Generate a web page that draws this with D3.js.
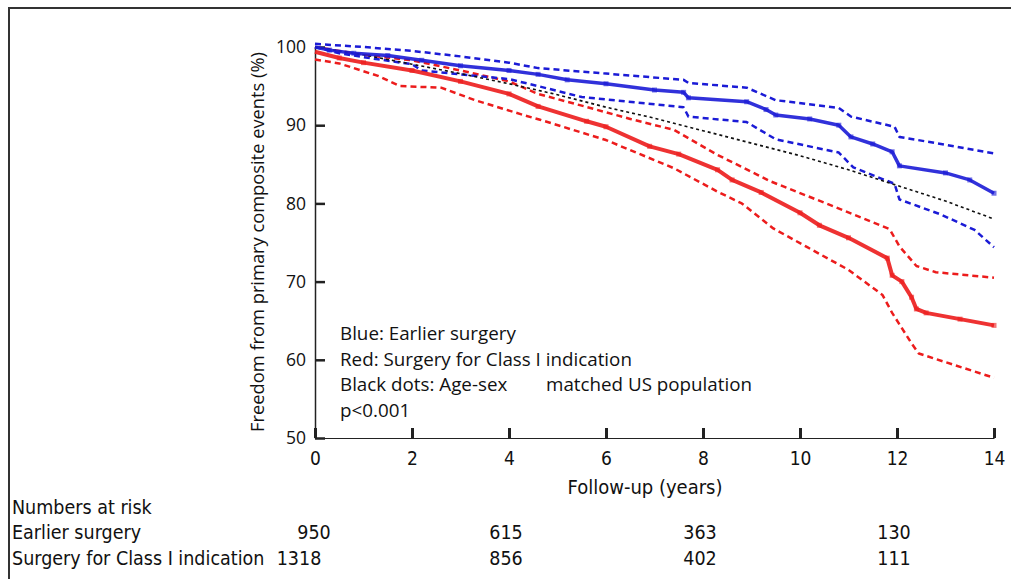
<!DOCTYPE html>
<meta charset="utf-8">
<style>
body { margin: 0; background: #fff; }
svg text { fill: #111; }
.seg { font-family: "Open Sans", "DejaVu Sans", sans-serif; }
.cal { font-family: "Liberation Sans Narrow", "DejaVu Sans Condensed", sans-serif; }
.axis path, .axis line { stroke: #222; }
</style>
<body></body>
<script src="https://d3js.org/d3.v7.min.js"></script>
<script>
// Kaplan-Meier curves: [years, % free of events]
var blueKM = [[0,100],[0.3,99.6],[0.8,99.2],[1.5,98.9],[2.2,98.3],[3,97.6],[4,97.0],[4.6,96.5],[5.2,95.8],[6,95.3],[7,94.5],[7.6,94.2],[7.7,93.5],[8.9,93.0],[9.3,92.0],[9.5,91.3],[10.2,90.8],[10.8,90.0],[11.05,88.5],[11.5,87.6],[11.9,86.6],[12.05,84.8],[13,83.9],[13.5,83.0],[14,81.3]];
var blueUpper = [[0,100.4],[1,100],[2,99.5],[3,98.8],[4,98.0],[4.6,97.3],[6,96.6],[7.6,95.8],[7.7,95.4],[8.9,94.8],[9.5,93.2],[10.8,92.2],[11.05,91.1],[11.95,89.8],[12.05,88.5],[13,87.5],[14,86.4]];
var blueLower = [[0,100],[0.5,99.2],[1,98.7],[2,97.8],[2.2,97.0],[3,96.5],[4,95.9],[4.6,95.0],[5.5,93.6],[7.6,92.3],[7.7,91.1],[8.9,90.4],[9.5,88.2],[10.8,86.5],[11.1,84.6],[11.95,82.5],[12.05,80.5],[12.9,78.6],[13.6,76.6],[14,74.4]];
var redKM = [[0,99.4],[0.5,98.6],[1,98.0],[2,97.0],[3,95.6],[4,94.0],[4.6,92.4],[5.6,90.5],[6,89.8],[6.9,87.3],[7.5,86.3],[8.3,84.3],[8.6,83.0],[9.2,81.4],[10,78.8],[10.4,77.2],[11,75.6],[11.8,73.0],[11.9,70.8],[12.1,70.0],[12.3,68.0],[12.4,66.5],[12.6,66.0],[13.3,65.2],[14,64.4]];
var redUpper = [[0,100],[1,99.0],[2,98.3],[3,97.0],[4,95.6],[4.6,94.0],[5.5,92.5],[6.5,90.8],[7.4,89.4],[8.3,86.2],[9.4,82.8],[10.7,79.6],[11.85,76.7],[12.05,74.5],[12.4,72.0],[12.8,71.2],[14,70.5]];
var redLower = [[0,98.4],[0.5,97.9],[1.3,96.3],[1.75,95.0],[2.6,94.8],[3.3,93.2],[4.3,91.3],[4.64,90.7],[6,88.1],[7.4,84.5],[8.3,81.5],[8.8,80.0],[9.45,76.8],[10.15,74.4],[11,71.5],[11.7,68.3],[11.9,66.0],[12.3,62.1],[12.45,60.8],[13.2,59.3],[14,57.7]];
var expected = [[0,100],[1,99.0],[2,97.8],[3,96.6],[4,95.3],[5,93.9],[6,92.3],[7,90.9],[8,89.3],[9,87.7],[10,86.1],[11,84.3],[12,82.3],[13,80.3],[14,78.0]];

var xTicks = [0, 2, 4, 6, 8, 10, 12, 14];
var yTicks = [50, 60, 70, 80, 90, 100];

var riskTimes = [0, 4, 8, 12];
var riskEarlier = [950, 615, 363, 130];
var riskClassI = [1318, 856, 402, 111];

var legendLines = ["Blue: Earlier surgery", "Red: Surgery for Class I indication", "Black dots: Age-sex", "p<0.001"];

var svg = d3.select("body").append("svg")
    .attr("width", 1011)
    .attr("height", 579);

// frame round the figure (only top and left show)
svg.append("path")
    .attr("d", "M9,579 V8 H1011")
    .attr("fill", "none")
    .attr("stroke", "#333")
    .attr("stroke-width", 2);

var xScale = d3.scaleLinear().domain([0, 14]).range([315, 994]);
var yScale = d3.scaleLinear().domain([50, 100]).range([438, 47]);

// axes, ticks pointing inward
var xAxis = svg.append("g")
    .attr("class", "axis cal")
    .attr("transform", "translate(0,438)")
    .call(d3.axisBottom(xScale).tickValues(xTicks).tickSizeInner(-10).tickSizeOuter(0).tickPadding(14));
xAxis.select(".domain").attr("stroke", "#555").attr("stroke-width", 1.2);
xAxis.selectAll(".tick line").attr("stroke-width", 3);
xAxis.selectAll("text").attr("font-size", 19).attr("font-family", null);

var yAxis = svg.append("g")
    .attr("class", "axis seg")
    .attr("transform", "translate(315,0)")
    .call(d3.axisLeft(yScale).tickValues(yTicks).tickSizeInner(-10).tickSizeOuter(0).tickPadding(9));
yAxis.select(".domain").attr("stroke-width", 1.5);
yAxis.selectAll(".tick line").attr("stroke-width", 2.5);
yAxis.selectAll("text").attr("font-size", 17.5).attr("font-family", null);

svg.append("text")
    .attr("class", "seg")
    .attr("transform", "translate(264,242) rotate(-90)")
    .attr("text-anchor", "middle")
    .attr("font-size", 18.3)
    .text("Freedom from primary composite events (%)");

svg.append("text")
    .attr("class", "cal")
    .attr("x", 645)
    .attr("y", 494)
    .attr("text-anchor", "middle")
    .attr("font-size", 20)
    .text("Follow-up (years)");

var line = d3.line()
    .x(function(d) { return xScale(d[0]); })
    .y(function(d) { return yScale(d[1]); });

var blue = "#1b1bd6", red = "#ec1c1c";

function drawCurve(data, color, width, dash, opacity) {
    svg.append("path")
        .datum(data)
        .attr("fill", "none")
        .attr("stroke", color)
        .attr("stroke-width", width)
        .attr("stroke-dasharray", dash)
        .attr("stroke-opacity", opacity || 1)
        .attr("stroke-linejoin", "round")
        .attr("d", line);
}

drawCurve(redLower, red, 2.5, "6,4");
drawCurve(redUpper, red, 2.5, "6,4");
drawCurve(blueLower, blue, 2.5, "6,4");
drawCurve(blueUpper, blue, 2.5, "6,4");
drawCurve(expected, "#111", 1.6, "3,3");
drawCurve(redKM, red, 4, null, 0.9);
drawCurve(blueKM, blue, 3.5, null, 0.9);

// censor marks along the KM curves
[[blueKM, blue], [redKM, red]].forEach(function(s) {
    svg.append("g").selectAll("rect")
        .data(s[0].slice(1))
        .enter().append("rect")
        .attr("x", function(d) { return xScale(d[0]) - 2.5; })
        .attr("y", function(d) { return yScale(d[1]) - 2.5; })
        .attr("width", 5)
        .attr("height", 5)
        .attr("fill", s[1])
        .attr("fill-opacity", 0.6);
});

// legend text inside the plot
svg.append("g").selectAll("text")
    .data(legendLines)
    .enter().append("text")
    .attr("class", "seg")
    .attr("x", 340)
    .attr("y", function(d, i) { return 340 + i * 25.5; })
    .attr("font-size", 18.8)
    .text(function(d) { return d; });

svg.append("text")
    .attr("class", "seg")
    .attr("x", 546)
    .attr("y", 391)
    .attr("font-size", 18.8)
    .text("matched US population");

// numbers at risk
var risk = svg.append("g").attr("class", "cal").attr("font-size", 19.5);
risk.append("text").attr("x", 12).attr("y", 514).text("Numbers at risk");
risk.append("text").attr("x", 12).attr("y", 539).text("Earlier surgery");
risk.append("text").attr("x", 12).attr("y", 565).text("Surgery for Class I indication");

risk.selectAll(".r1")
    .data(riskEarlier)
    .enter().append("text")
    .attr("x", function(d, i) { return xScale(riskTimes[i]) + (i === 0 ? -1 : -3); })
    .attr("y", 539)
    .attr("text-anchor", "middle")
    .text(function(d) { return d; });

risk.selectAll(".r2")
    .data(riskClassI)
    .enter().append("text")
    .attr("x", function(d, i) { return xScale(riskTimes[i]) + (i === 0 ? -16 : -3); })
    .attr("y", 565)
    .attr("text-anchor", "middle")
    .text(function(d) { return d; });
</script>
